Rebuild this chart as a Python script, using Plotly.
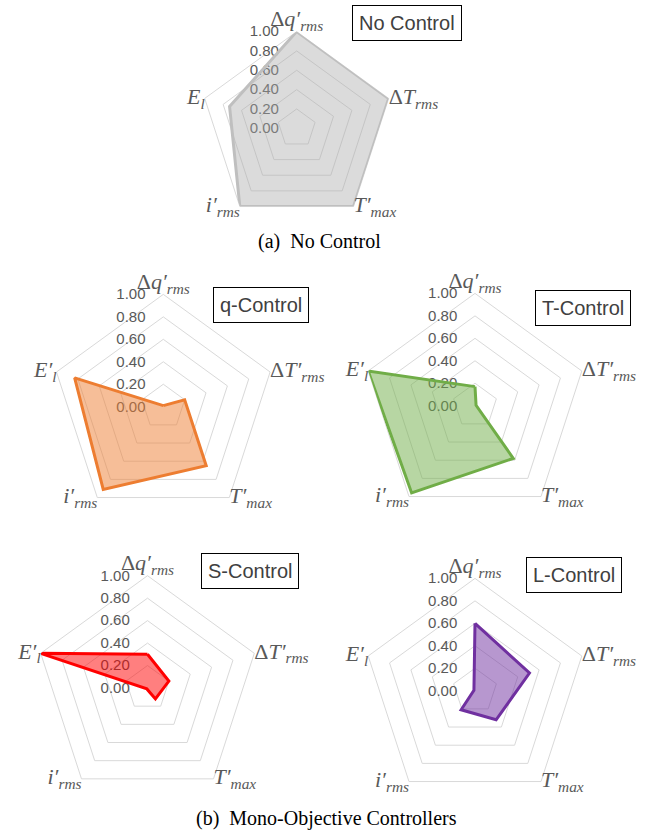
import plotly.graph_objects as go

# Radar axes, clockwise from the top
axes = ["dq", "dT", "Tmax", "irms", "El"]

labels_top = [
    "Δ<i>q′</i><sub><i>rms</i></sub>",
    "Δ<i>T</i><sub><i>rms</i></sub>",
    "<i>T′</i><sub><i>max</i></sub>",
    "<i>i′</i><sub><i>rms</i></sub>",
    "<i>E</i><sub><i>l</i></sub>",
]
labels_bottom = [
    "Δ<i>q′</i><sub><i>rms</i></sub>",
    "Δ<i>T′</i><sub><i>rms</i></sub>",
    "<i>T′</i><sub><i>max</i></sub>",
    "<i>i′</i><sub><i>rms</i></sub>",
    "<i>E′</i><sub><i>l</i></sub>",
]
label_positions = ["top center", "middle right", "middle right", "middle left", "middle left"]

radial_ticks = [0.0, 0.2, 0.4, 0.6, 0.8, 1.0]
radial_ticktext = ["0.00", "0.20", "0.40", "0.60", "0.80", "1.00"]

# Normalised metrics per controller
no_control = [1.00, 1.00, 1.00, 1.00, 0.73]
q_control = [0.01, 0.20, 0.65, 0.91, 0.83]
t_control = [0.17, 0.01, 0.58, 0.96, 1.00]
s_control = [0.30, 0.20, 0.12, 0.01, 1.00]
l_control = [0.60, 0.51, 0.32, 0.21, 0.01]

controllers = [
    ("No Control", no_control, "#bfbfbf", "rgba(170,170,170,0.42)", labels_top),
    ("q-Control", q_control, "#ed7d31", "rgba(237,125,49,0.5)", labels_bottom),
    ("T-Control", t_control, "#70ad47", "rgba(112,173,71,0.5)", labels_bottom),
    ("S-Control", s_control, "#ff0000", "rgba(255,0,0,0.5)", labels_bottom),
    ("L-Control", l_control, "#7030a0", "rgba(112,48,160,0.5)", labels_bottom),
]

W, H = 655, 832

# Subplot centre (px from top-left) and outer radius (px)
placement = [
    (296.7, 128.3, 96.7),
    (163.3, 406.7, 112.3),
    (475.0, 405.7, 112.3),
    (147.5, 688.0, 112.3),
    (475.0, 690.7, 112.3),
]

# Name boxes (centre px)
box_pos = [
    (407, 23),
    (261, 305),
    (583, 308),
    (249.5, 571),
    (573.5, 575),
]

SERIF = "Liberation Serif, Times New Roman, serif"
SANS = "Liberation Sans, Arial, sans-serif"

fig = go.Figure()
layout = dict(
    width=W,
    height=H,
    margin=dict(l=0, r=0, t=0, b=0),
    paper_bgcolor="white",
    plot_bgcolor="white",
    showlegend=False,
)

annotations = []
for k, ((name, vals, lc, fc, labs), (cx, cy, R), (bx, by)) in enumerate(
    zip(controllers, placement, box_pos)
):
    pid = "polar" if k == 0 else f"polar{k + 1}"
    fig.add_trace(
        go.Scatterpolar(
            r=vals + vals[:1],
            theta=axes + axes[:1],
            fill="toself",
            fillcolor=fc,
            line=dict(color=lc, width=3),
            mode="lines",
            name=name,
            subplot=pid,
            hoverinfo="skip",
        )
    )
    # Axis names sitting at the outer vertices
    fig.add_trace(
        go.Scatterpolar(
            r=[1.0] * len(axes),
            theta=axes,
            mode="text",
            text=labs,
            textposition=label_positions,
            textfont=dict(family=SERIF, size=22, color="#595959"),
            cliponaxis=False,
            subplot=pid,
            hoverinfo="skip",
        )
    )
    layout[pid] = dict(
        domain=dict(
            x=[(cx - R) / W, (cx + R) / W],
            y=[(H - cy - R) / H, (H - cy + R) / H],
        ),
        gridshape="linear",
        bgcolor="rgba(0,0,0,0)",
        radialaxis=dict(
            range=[0, 1],
            tickmode="array",
            tickvals=radial_ticks,
            ticktext=radial_ticktext,
            angle=90,
            side="counterclockwise",
            tickangle=90,
            showline=False,
            ticks="outside",
            ticklen=12,
            tickcolor="rgba(0,0,0,0)",
            gridcolor="#d9d9d9",
            gridwidth=1,
            tickfont=dict(family=SANS, size=15, color="#595959"),
            layer="below traces",
        ),
        angularaxis=dict(
            type="category",
            categoryarray=axes,
            rotation=90,
            direction="clockwise",
            showticklabels=False,
            showgrid=False,
            showline=True,
            linecolor="#d9d9d9",
            linewidth=1,
            ticks="",
            layer="below traces",
        ),
    )
    annotations.append(
        dict(
            x=bx / W,
            y=1 - by / H,
            xref="paper",
            yref="paper",
            text=name,
            showarrow=False,
            font=dict(family=SANS, size=20, color="#404040"),
            bordercolor="#000000",
            borderwidth=1,
            borderpad=6,
            bgcolor="white",
            xanchor="center",
            yanchor="middle",
        )
    )

annotations.append(
    dict(
        x=319 / W, y=1 - 241 / H, xref="paper", yref="paper",
        text="(a)  No Control", showarrow=False,
        font=dict(family=SERIF, size=20, color="black"),
        xanchor="center", yanchor="middle",
    )
)
annotations.append(
    dict(
        x=326 / W, y=1 - 818 / H, xref="paper", yref="paper",
        text="(b)  Mono-Objective Controllers", showarrow=False,
        font=dict(family=SERIF, size=20, color="black"),
        xanchor="center", yanchor="middle",
    )
)

layout["annotations"] = annotations
fig.update_layout(**layout)
fig.write_html("out.html")
